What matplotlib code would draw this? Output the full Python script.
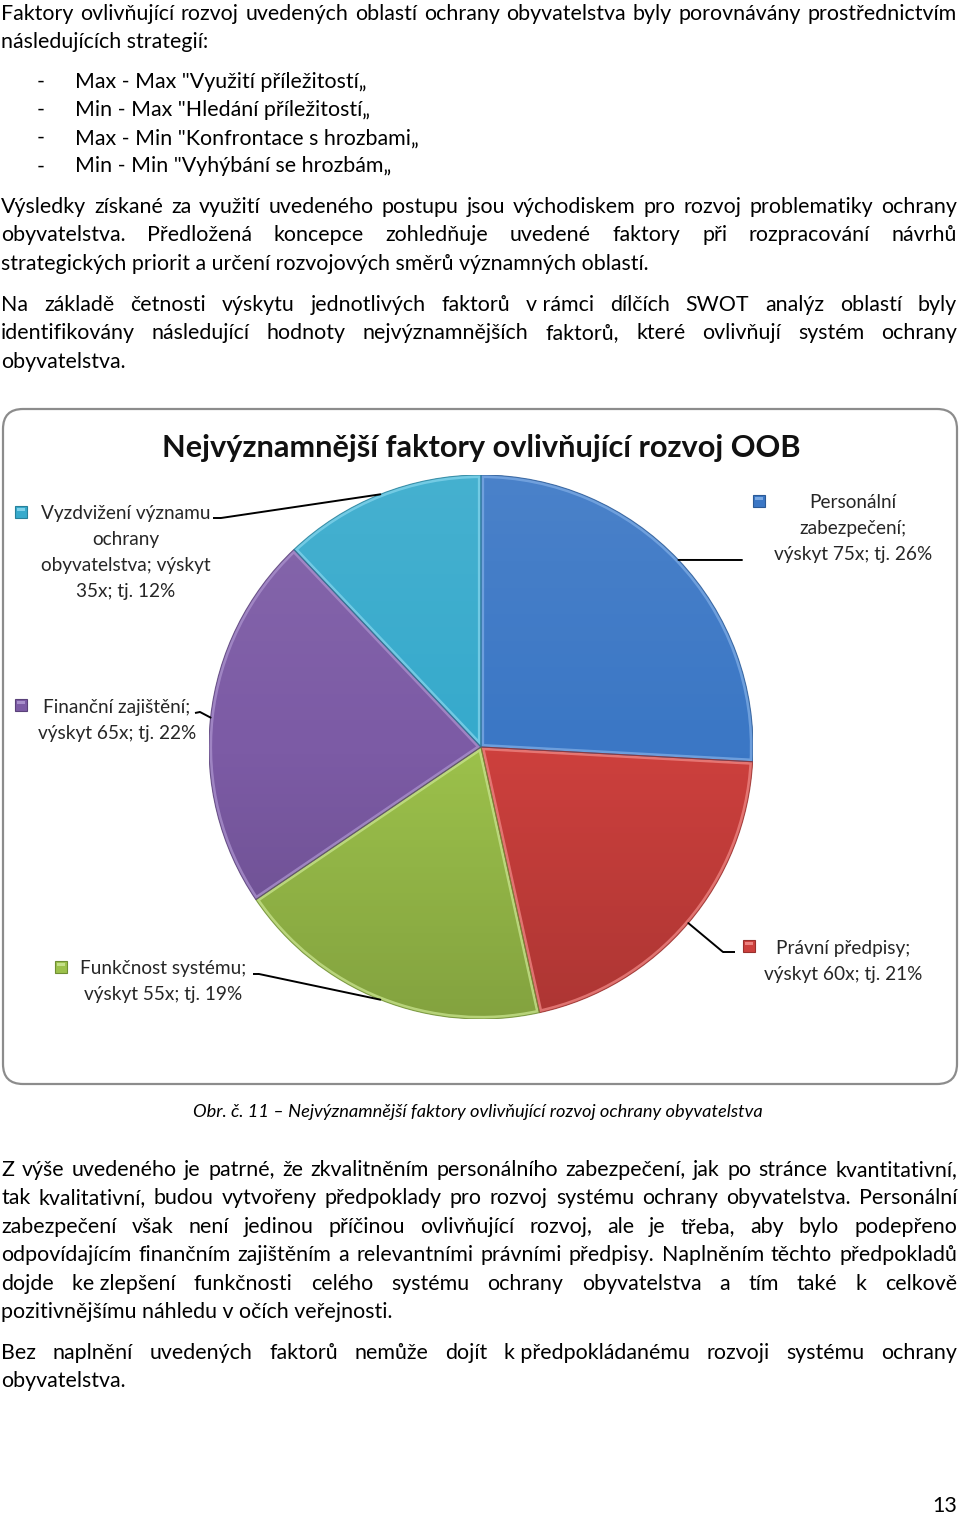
import numpy as np
import matplotlib
matplotlib.use("Agg")
import matplotlib.pyplot as plt
from matplotlib.patches import FancyBboxPatch, Rectangle, ConnectionPatch, Wedge, Circle

# ---------------- data ----------------
categories = ["Personální zabezpečení", "Právní předpisy", "Funkčnost systému",
              "Finanční zajištění", "Vyzdvižení významu ochrany obyvatelstva"]
counts = [75, 60, 55, 65, 35]
colors = ["#3B77C5", "#CD403D", "#9CC14B", "#7C5BA5", "#36AACC"]
light_colors = ["#7AA9E3", "#EC8380", "#C5E08A", "#A88FCB", "#7FD2EA"]
dark_colors = ["#2B5A96", "#99302D", "#6F8E33", "#5A4179", "#27809A"]
# words per line of each data label
label_breaks = [[1, 1, 4], [2, 4], [2, 4], [2, 4], [2, 1, 2, 3]]

chart_title = "Nejvýznamnější faktory ovlivňující rozvoj OOB"
caption = "Obr. č. 11 – Nejvýznamnější faktory ovlivňující rozvoj ochrany obyvatelstva"

para1 = ["Faktory ovlivňující rozvoj uvedených oblastí ochrany obyvatelstva byly porovnávány prostřednictvím",
         "následujících strategií:"]
bullets = ['Max - Max "Využití příležitostí„',
           'Min - Max "Hledání příležitostí„',
           'Max - Min "Konfrontace s hrozbami„',
           'Min - Min "Vyhýbání se hrozbám„']
para2 = ["Výsledky získané za využití uvedeného postupu jsou východiskem pro rozvoj problematiky ochrany",
         "obyvatelstva. Předložená koncepce zohledňuje uvedené faktory při rozpracování návrhů",
         "strategických priorit a určení rozvojových směrů významných oblastí."]
para3 = ["Na základě četnosti výskytu jednotlivých faktorů v\u00a0rámci dílčích SWOT analýz oblastí byly",
         "identifikovány následující hodnoty nejvýznamnějších faktorů, které ovlivňují systém ochrany",
         "obyvatelstva."]
para4 = ["Z výše uvedeného je patrné, že zkvalitněním personálního zabezpečení, jak po stránce kvantitativní,",
         "tak kvalitativní, budou vytvořeny předpoklady pro rozvoj systému ochrany obyvatelstva. Personální",
         "zabezpečení však není jedinou příčinou ovlivňující rozvoj, ale je třeba, aby bylo podepřeno",
         "odpovídajícím finančním zajištěním a relevantními právními předpisy. Naplněním těchto předpokladů",
         "dojde ke\u00a0zlepšení funkčnosti celého systému ochrany obyvatelstva a tím také k celkově",
         "pozitivnějšímu náhledu v očích veřejnosti."]
para5 = ["Bez naplnění uvedených faktorů nemůže dojít k\u00a0předpokládanému rozvoji systému ochrany",
         "obyvatelstva."]
page_number = "13"

# ---------------- figure ----------------
W, H = 960, 1515
fig = plt.figure(figsize=(W / 100, H / 100), dpi=100)
fig.patch.set_facecolor("white")
page = fig.add_axes([0, 0, 1, 1])
page.set_xlim(0, W)
page.set_ylim(H, 0)
page.axis("off")
renderer = fig.canvas.get_renderer()

FAM = ["Lato", "DejaVu Sans"]


def twidth(s, size, **kw):
    t = page.text(0, 0, s, fontsize=size, family=FAM, **kw)
    w = t.get_window_extent(renderer).width
    t.remove()
    return w


def fit(pairs, **kw):
    sizes = [20 * target / twidth(s, 20, **kw) for s, target in pairs]
    return float(np.mean(sizes))


BODY = fit([("strategických priorit a určení rozvojových směrů významných oblastí.", 648),
            ("následujících strategií:", 208),
            ('Max - Min "Konfrontace s hrozbami„', 343)])
LAB = fit([("výskyt 75x; tj. 26%", 157), ("Vyzdvižení významu", 172)])
TITLE = fit([(chart_title, 640)], fontweight="bold")
CAP = fit([(caption, 570)], style="italic")

X0, X1 = 1, 957
LS = 28.4


def put(x, y, s, size=None, **kw):
    return page.text(x, y, s, fontsize=size or BODY, family=FAM, va="baseline",
                     color=kw.pop("color", "black"), **kw)


def justified(line, y):
    words = line.split(" ")
    ws = [twidth(w, BODY) for w in words]
    gap = (X1 - X0 - sum(ws)) / (len(words) - 1)
    x = X0
    for w, wd in zip(words, ws):
        put(x, y, w)
        x += wd + gap


def paragraph(lines, y0):
    for i, ln in enumerate(lines):
        y = y0 + i * LS
        if i < len(lines) - 1:
            justified(ln, y)
        else:
            put(X0, y, ln)


# paragraph 1 + bullets
justified(para1[0], 19.5)
put(X0, 47.5, para1[1])
for i, b in enumerate(bullets):
    y = 87.5 + i * 28.3
    put(37, y, "-")
    put(75, y, b)

paragraph(para2, 213)
paragraph(para3, 311)
paragraph(para4, 1176)
paragraph(para5, 1359)
put(957, 1512, page_number, ha="right")
put(478, 1117, caption, size=CAP, ha="center", style="italic")

# chart frame
box = FancyBboxPatch((3, 409), 954, 675, boxstyle="round,pad=0,rounding_size=20",
                     fc="white", ec="#8C8C8C", lw=1.6)
page.add_patch(box)
put(481, 457, chart_title, size=TITLE, ha="center", fontweight="bold", color="#111111")

# pie
cx, cy, r = 481, 747, 272
ax = fig.add_axes([(cx - r) / W, (H - cy - r) / H, 2 * r / W, 2 * r / H])
wedges, _ = ax.pie(counts, colors=colors, startangle=90, counterclock=False,
                   wedgeprops=dict(linewidth=0))
ax.set_xlim(-1, 1)
ax.set_ylim(-1, 1)
ax.axis("off")

# shading: slightly lighter at the top, darker at the bottom
n = 300
t = np.linspace(0, 1, n)[:, None]          # 0 = top, 1 = bottom
grad = np.zeros((n, 2, 4))
top = t < 0.5
grad[..., :3] = np.where(top[..., None], 1.0, 0.0)
grad[..., 3] = np.where(top, (0.5 - t) * 0.16, (t - 0.5) * 0.32)
im = ax.imshow(grad, extent=(-1, 1, -1, 1), origin="upper", aspect="auto",
               interpolation="bilinear", zorder=2)
im.set_clip_path(Circle((0, 0), 1, transform=ax.transData))

# bevel: light inner stroke + thin dark outline
for wdg, lc, dc in zip(wedges, light_colors, dark_colors):
    bev = Wedge((0, 0), 1, wdg.theta1, wdg.theta2, fc="none", ec=lc, lw=4.5, alpha=0.8, zorder=3)
    ax.add_patch(bev)
    bev.set_clip_path(wdg)
    out = Wedge((0, 0), 1, wdg.theta1, wdg.theta2, fc="none", ec=dc, lw=0.8, alpha=0.8, zorder=4)
    ax.add_patch(out)
ax.set_xlim(-1, 1)
ax.set_ylim(-1, 1)

total = sum(counts)
pcts = [int(round(100 * c / total)) for c in counts]

# label layout: centre x, first baseline, marker position, leader start, elbow
label_layout = [
    dict(cx=853, y=508, mx=753, my=495, start=(742, 560), elbow=None),
    dict(cx=843, y=954, mx=743, my=940, start=(735, 952), elbow=(723, 952)),
    dict(cx=163, y=974, mx=55, my=961, start=(253, 974), elbow=(259, 974)),
    dict(cx=117, y=713, mx=15, my=699, start=(195, 713), elbow=(200, 712)),
    dict(cx=126, y=519, mx=15, my=506, start=(213, 518), elbow=(221, 518)),
]
LBL_LS = 26

for i, (cat, c, p, br, lay, wdg) in enumerate(zip(categories, counts, pcts, label_breaks,
                                                   label_layout, wedges)):
    words = f"{cat}; výskyt {c}x; tj. {p}%".split(" ")
    lines, k = [], 0
    for nw in br:
        lines.append(" ".join(words[k:k + nw]))
        k += nw
    for j, ln in enumerate(lines):
        put(lay["cx"], lay["y"] + j * LBL_LS, ln, size=LAB, ha="center", color="#262626")
    page.add_patch(Rectangle((lay["mx"], lay["my"]), 12, 12, fc=colors[i],
                             ec=dark_colors[i], lw=0.8))
    page.add_patch(Rectangle((lay["mx"] + 2, lay["my"] + 2), 8, 3, fc=light_colors[i], lw=0))
    mid = np.deg2rad((wdg.theta1 + wdg.theta2) / 2)
    pt_pie = (np.cos(mid), np.sin(mid))
    sx, sy = lay["start"]
    if lay["elbow"] is not None:
        ex, ey = lay["elbow"]
        page.plot([sx, ex], [sy, ey], color="black", lw=1.4, solid_capstyle="butt")
        a = (ex, ey)
    else:
        a = (sx, sy)
    con = ConnectionPatch(xyA=a, coordsA=page.transData, xyB=pt_pie, coordsB=ax.transData,
                          color="black", lw=1.4)
    fig.add_artist(con)

fig.savefig("out.png", dpi=100, facecolor="white")
